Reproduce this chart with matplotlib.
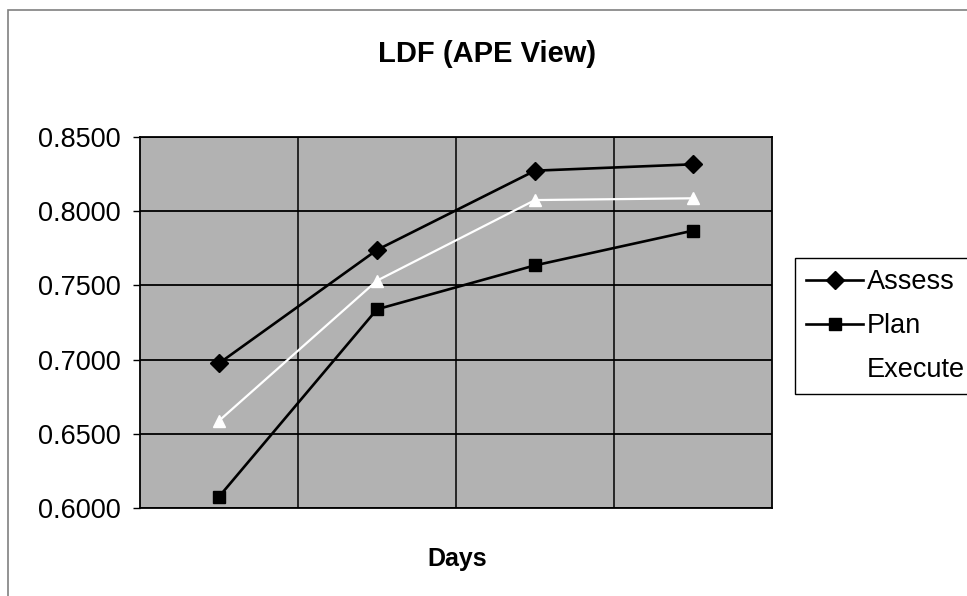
#!/usr/bin/env python3
"""LDF (APE View) line chart, Excel-style grey plot area."""
import matplotlib

matplotlib.use("Agg")
import matplotlib.pyplot as plt
from matplotlib.patches import Rectangle
from matplotlib.ticker import FixedLocator

W, H = 967, 596

days = ["1", "2", "3", "4"]
assess = [0.6975, 0.7739, 0.8273, 0.8316]
plan = [0.6076, 0.7339, 0.7635, 0.7869]
execute = [0.6588, 0.7532, 0.8075, 0.8087]
y_ticks = [0.60, 0.65, 0.70, 0.75, 0.80, 0.85]


def main():
    plt.rcParams.update(
        {
            "font.family": ["Liberation Sans", "DejaVu Sans"],
            "figure.dpi": 100,
            "savefig.dpi": 100,
        }
    )

    fig = plt.figure(figsize=(W / 100, H / 100))
    ax = fig.add_axes([140 / W, 1 - 508 / H, (772 - 140) / W, (508 - 137) / H])
    ax.set_facecolor("#b2b2b2")

    x = list(range(len(days)))
    ax.plot(x, assess, color="black", linewidth=1.9, marker="D",
            markersize=9, label="Assess", zorder=4)
    ax.plot(x, plan, color="black", linewidth=1.9, marker="s",
            markersize=8.5, label="Plan", zorder=4)
    ax.plot(x, execute, color="white", linewidth=1.6, marker="^",
            markersize=8, label="Execute", zorder=3)

    ax.set_xlim(-0.5, len(days) - 0.5)
    ax.set_ylim(y_ticks[0], y_ticks[-1])
    ax.set_yticks(y_ticks)
    ax.set_yticklabels([f"{v:.4f}" for v in y_ticks])
    ax.set_xticks([])
    ax.xaxis.set_minor_locator(FixedLocator([i + 0.5 for i in x[:-1]]))
    ax.tick_params(axis="x", which="both", length=0)
    ax.tick_params(axis="y", length=5, width=1, pad=9, labelsize=19.5)

    ax.grid(True, axis="y", which="major", color="black", linewidth=1.3)
    ax.grid(True, axis="x", which="minor", color="black", linewidth=1.1)
    ax.set_axisbelow(True)
    for s in ax.spines.values():
        s.set_color("black")
        s.set_linewidth(1.3)

    fig.text(487 / W, 1 - 62 / H, "LDF (APE View)", ha="center",
             va="baseline", fontsize=21, fontweight="bold")
    fig.text(457 / W, 1 - 566 / H, "Days", ha="center", va="baseline",
             fontsize=18, fontweight="bold")

    leg = fig.legend(
        loc="upper left",
        bbox_to_anchor=(795 / W, 1 - 258 / H),
        bbox_transform=fig.transFigure,
        fontsize=19.5,
        frameon=True,
        fancybox=False,
        shadow=False,
        borderaxespad=0,
        borderpad=0.42,
        handlelength=2.1,
        handletextpad=0.12,
        labelspacing=0.65,
        numpoints=1,
    )
    leg.get_frame().set_edgecolor("black")
    leg.get_frame().set_linewidth(1.0)
    leg.get_frame().set_facecolor("white")
    leg.get_frame().set_alpha(1)

    # outer chart border (cut off on the right and bottom)
    fig.add_artist(Rectangle((8 / W, -0.1), 1.2, 1.1 - 10 / H,
                             transform=fig.transFigure, fill=False,
                             edgecolor="#808080", linewidth=1.2))

    fig.savefig("out.png")
    plt.close(fig)


if __name__ == "__main__":
    main()
